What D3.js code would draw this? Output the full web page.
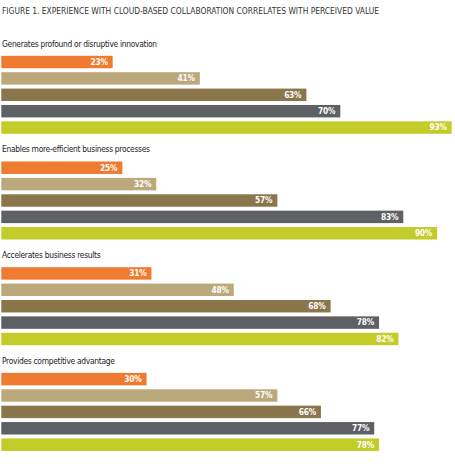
<!DOCTYPE html>
<html>
<head>
<meta charset="utf-8">
<script src="https://cdn.jsdelivr.net/npm/d3@7"></script>
<style>
	body{margin:0;background:#fff;}
	svg{display:block;}
	.title{font-family:"Liberation Sans Narrow","DejaVu Sans Condensed",sans-serif;font-size:8.5px;fill:#333;}
	.cat{font-family:"Liberation Sans Narrow","DejaVu Sans Condensed",sans-serif;font-size:8.4px;letter-spacing:-0.3px;fill:#222;}
	.val{font-family:"Liberation Sans Narrow","DejaVu Sans Condensed",sans-serif;font-size:8.3px;font-weight:bold;letter-spacing:-0.2px;fill:#fff;}
</style>
</head>
<body>
<svg width="455" height="474"></svg>
<script>
(()=>{
	let svg = d3.select("svg"),
		width = +svg.attr("width");

	//data
	let title = "FIGURE 1. EXPERIENCE WITH CLOUD-BASED COLLABORATION CORRELATES WITH PERCEIVED VALUE";
	let categories = ["Generates profound or disruptive innovation","Enables more-efficient business processes","Accelerates business results","Provides competitive advantage"];
	let series = ["s1","s2","s3","s4","s5"];
	let colors = ["#ee7b2f","#bca97b","#8b764b","#5f6064","#c3cc29"];
	let s1 = [23,25,31,30];
	let s2 = [41,32,48,57];
	let s3 = [63,57,68,66];
	let s4 = [70,83,78,77];
	let s5 = [93,90,82,78];
	let values = [s1,s2,s3,s4,s5];

	//scales
	let x = d3.scaleLinear().domain([0,100]).range([1.3,485.6]);
	let yGroup = d3.scaleBand().domain(categories).range([36,36+4*105.7]);
	let yBar = d3.scaleBand().domain(series).range([0,78]).paddingInner(0.24);
	let color = d3.scaleOrdinal().domain(series).range(colors);

	svg.append("text")
		.attr("class","title")
		.attr("x",2).attr("y",14)
		.attr("textLength",377).attr("lengthAdjust","spacingAndGlyphs")
		.text(title);

	let groups = svg.selectAll(".group").data(categories).enter()
		.append("g")
		.attr("class","group")
		.attr("transform", d=> "translate(0,"+yGroup(d)+")");

	groups.append("text")
		.attr("class","cat")
		.attr("x",2).attr("y",10.5)
		.text(d=>d);

	let bars = groups.selectAll(".bar")
		.data((d,i)=> series.map((s,j)=>({s:s, v:values[j][i]})))
		.enter()
		.append("g")
		.attr("class","bar")
		.attr("transform", d=> "translate(0,"+(19.8+yBar(d.s))+")");

	bars.append("rect")
		.attr("x", x(0))
		.attr("width", d=> x(d.v)-x(0))
		.attr("height", yBar.bandwidth())
		.style("fill", d=> color(d.s));

	bars.append("text")
		.attr("class","val")
		.attr("x", d=> x(d.v)-5)
		.attr("y", yBar.bandwidth()/2)
		.attr("dy","0.35em")
		.attr("text-anchor","end")
		.text(d=> d.v+"%");
})();
</script>
</body>
</html>
